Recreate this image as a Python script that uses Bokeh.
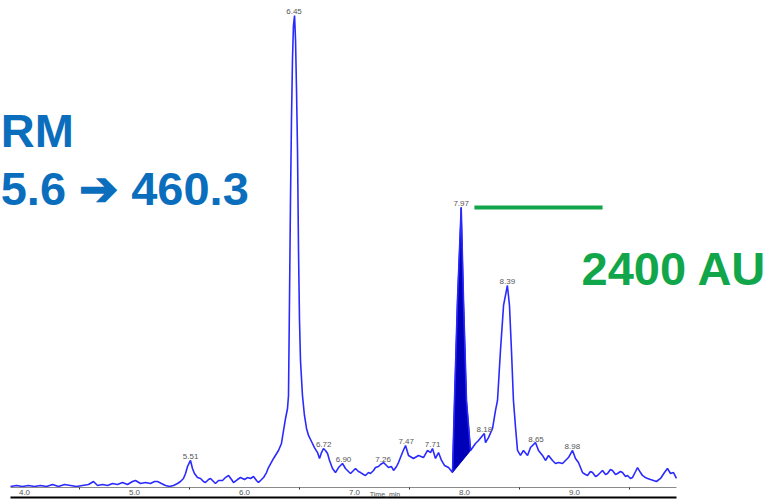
from bokeh.plotting import figure
from bokeh.models import Range1d, LinearAxis, FixedTicker, Label, ColumnDataSource
from bokeh.core.properties import value
from bokeh.embed import file_html
from bokeh.resources import INLINE

# ---- data (time in min, intensity in AU) ----
times = [3.873, 3.927, 3.982, 4.036, 4.091, 4.145, 4.200, 4.255, 4.309, 4.364,
         4.418, 4.473, 4.527, 4.582, 4.627, 4.664, 4.709, 4.755, 4.800, 4.845,
         4.891, 4.936, 4.982, 5.009, 5.055, 5.100, 5.145, 5.182, 5.209, 5.245,
         5.282, 5.318, 5.355, 5.391, 5.418, 5.445, 5.464, 5.482, 5.509, 5.527,
         5.545, 5.573,
         5.600, 5.627, 5.645, 5.673, 5.691, 5.718, 5.736, 5.764, 5.800, 5.827,
         5.855, 5.882, 5.900, 5.936, 5.964, 6.000, 6.027, 6.055, 6.082, 6.109,
         6.127, 6.155, 6.173, 6.200, 6.218,
         6.264, 6.309, 6.336, 6.355, 6.373, 6.391, 6.400, 6.409, 6.418, 6.427,
         6.436, 6.445, 6.455, 6.464, 6.473, 6.482, 6.491, 6.500, 6.509, 6.527,
         6.545, 6.564, 6.582, 6.609, 6.636, 6.664, 6.682, 6.700, 6.718, 6.736,
         6.755, 6.773, 6.800, 6.827, 6.855, 6.891,
         6.918, 6.945, 6.964, 6.991, 7.009, 7.036, 7.055, 7.082, 7.100, 7.127,
         7.145, 7.173, 7.191, 7.218, 7.236, 7.264, 7.291, 7.309, 7.336, 7.355,
         7.382, 7.400,
         7.436, 7.464, 7.491, 7.536, 7.582, 7.627, 7.664, 7.691, 7.709, 7.736,
         7.764, 7.791, 7.818, 7.855, 7.891, 7.909, 7.936, 7.970, 7.991, 8.018,
         8.055, 8.100, 8.127, 8.180, 8.191, 8.218, 8.255, 8.282, 8.300, 8.327,
         8.355, 8.390, 8.409, 8.427, 8.445, 8.464, 8.482, 8.509, 8.536, 8.573,
         8.600, 8.645, 8.673, 8.709, 8.736, 8.764, 8.800, 8.827, 8.855, 8.891,
         8.918, 8.945, 8.982, 9.009, 9.036,
         9.073, 9.100, 9.118, 9.145, 9.164, 9.191, 9.209, 9.236, 9.255, 9.282,
         9.300, 9.327, 9.345, 9.373, 9.391, 9.418, 9.436, 9.464, 9.482, 9.509,
         9.527, 9.555, 9.573, 9.600, 9.618, 9.645, 9.664, 9.691, 9.718, 9.745,
         9.782, 9.818, 9.845, 9.873, 9.900, 9.927]
intensity = [0, 9, 0, 9, 0, 9, 0, 17, 0, 17,
             9, 0, 9, 17, 43, 9, 17, 9, 26, 17,
             34, 17, 43, 52, 26, 34, 26, 43, 43, 26,
             9, 0, 9, 26, 43, 69, 112, 172, 224, 155,
             112, 77,
             69, 43, 34, 60, 69, 43, 26, 52, 52, 77,
             95, 60, 34, 60, 77, 60, 77, 69, 86, 52,
             34, 60, 77, 120, 163,
             241, 310, 370, 482, 585, 671, 783, 1600, 2460, 3148,
             3664, 3965, 4051, 3836, 3406, 2890, 2030, 1428, 1084, 783,
             611, 499, 439, 387, 335, 292, 241, 292, 327, 310,
             284, 224, 155, 120, 163, 198,
             155, 129, 112, 138, 155, 129, 120, 103, 95, 120,
             112, 138, 163, 172, 189, 206, 181, 163, 172, 138,
             172, 206,
             292, 353, 267, 241, 267, 249, 310, 292, 327, 241,
             292, 224, 181, 163, 120, 740, 1600, 2400, 1600, 740,
             310, 370, 396, 456, 378, 421, 499, 654, 740, 1170,
             1557, 1729, 1557, 1170, 740, 507, 310, 267, 310, 267,
             335, 378, 310, 267, 224, 267, 224, 198, 206, 198,
             224, 249, 310, 241, 206,
             120, 103, 95, 129, 120, 86, 95, 120, 138, 103,
             112, 146, 138, 103, 112, 129, 120, 86, 95, 69,
             77, 129, 163, 120, 95, 77, 69, 60, 52, 43,
             69, 120, 155, 112, 120, 69]

peak_labels = ["5.51", "6.45", "6.72", "6.90", "7.26", "7.47", "7.71",
               "7.97", "8.18", "8.39", "8.65", "8.98"]
peak_heights = [224, 4051, 327, 198, 206, 353, 327, 2400, 456, 1729, 378, 310]

integrated_peak = (7.891, 8.055)       # start / end of the shaded peak
ref_level = 2400
ref_label = "2400 AU"
title_lines = ["RM", "5.6 \u2794 460.3"]
x_ticks = [4.0, 5.0, 6.0, 7.0, 8.0, 9.0]
x_tick_labels = ["4.0", "5.0", "6.0", "7.0", "8.0", "9.0"]
x_minor_ticks = [4.5, 5.5, 6.5, 7.5, 8.5, 9.5]
x_axis_label = "Time, min"

# ---- figure ----
p = figure(frame_width=769, frame_height=487, output_backend="svg",
           toolbar_location=None,
           x_range=Range1d(3.7818, 10.7727), y_range=Range1d(-8.6, 4180),
           min_border=0, y_axis_location=None)
p.grid.visible = False
p.outline_line_color = None
p.background_fill_color = "white"
p.border_fill_color = "white"

ax = p.xaxis[0]
ax.ticker = FixedTicker(ticks=x_ticks, minor_ticks=x_minor_ticks)
ax.major_label_overrides = {t: l for t, l in zip(x_ticks, x_tick_labels)}
ax.bounds = (times[0], times[-1])
ax.axis_line_color = "#8a8a8a"
ax.axis_line_width = 1
ax.major_tick_out = 0
ax.major_tick_in = 0
ax.minor_tick_out = 2
ax.minor_tick_in = 0
ax.minor_tick_line_color = "#333333"
ax.major_label_standoff = 0
ax.major_label_text_font_size = "8px"
ax.major_label_text_color = "#555555"
ax.major_label_text_font = "Liberation Sans"

# lower frame rule, carrying the axis title that it partly overlaps
ax2 = LinearAxis(ticker=FixedTicker(ticks=[]), bounds=(times[0], times[-1]),
                 axis_line_width=2, axis_line_color="black",
                 major_tick_out=0, major_tick_in=0, minor_tick_out=0, minor_tick_in=0,
                 major_label_text_font_size="0px", major_label_standoff=0,
                 axis_label=x_axis_label, axis_label_standoff=-7,
                 axis_label_text_font="Liberation Sans",
                 axis_label_text_font_size="7px",
                 axis_label_text_font_style="normal",
                 axis_label_text_color="#555555")
p.add_layout(ax2, "below")

# shaded integrated peak
i0 = times.index(integrated_peak[0])
i1 = times.index(integrated_peak[1])
p.patch(times[i0:i1 + 1], intensity[i0:i1 + 1], fill_color="#0000b8",
        line_color="#0000b8", line_width=1)

# trace
p.line(times, intensity, line_color="#2a2aff", line_width=1.6)

# peak labels
src = ColumnDataSource(dict(x=[float(s) for s in peak_labels], y=peak_heights,
                            text=peak_labels))
p.text("x", "y", text="text", source=src, text_font=value("Liberation Sans"),
       text_font_size="8px", text_color="#555555", text_align="center",
       text_baseline="bottom", y_offset=-1)

# reference line
p.segment(x0=[8.09], x1=[9.255], y0=[ref_level], y1=[ref_level],
          line_color="#12a64b", line_width=4)

p.add_layout(Label(x=9.064, y=1875, text=ref_label, text_font="Liberation Sans",
                   text_font_style="bold", text_font_size="47px",
                   text_color="#12a64b", text_align="left", text_baseline="alphabetic"))
p.add_layout(Label(x=3.7836, y=3062, text=title_lines[0], text_font="Liberation Sans",
                   text_font_style="bold", text_font_size="47px",
                   text_color="#0a6ebd", text_align="left", text_baseline="alphabetic"))
p.add_layout(Label(x=3.7836, y=2563, text=title_lines[1], text_font="Liberation Sans",
                   text_font_style="bold", text_font_size="47px",
                   text_color="#0a6ebd", text_align="left", text_baseline="alphabetic"))

open("out.html", "w").write(file_html(p, INLINE))
